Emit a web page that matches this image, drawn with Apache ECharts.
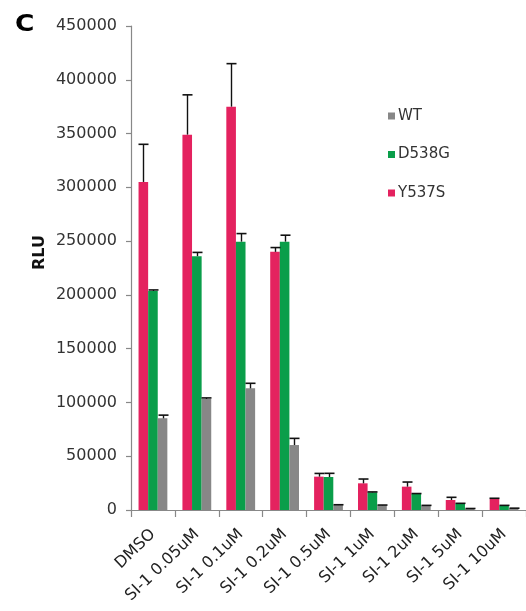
<!DOCTYPE html>
<html>
<head>
<meta charset="utf-8">
<script src="https://cdn.jsdelivr.net/npm/echarts@6/dist/echarts.min.js"></script>
<style>
  html, body { margin: 0; padding: 0; background: #fff; }
  #chart { width: 526px; height: 611px; }
</style>
</head>
<body>
<div id="chart"></div>
<script>
// Luciferase readout per treatment, three receptor variants
const categories = ['DMSO', 'SI-1 0.05uM', 'SI-1 0.1uM', 'SI-1 0.2uM', 'SI-1 0.5uM', 'SI-1 1uM', 'SI-1 2uM', 'SI-1 5uM', 'SI-1 10uM'];
const y537s = [305000, 349000, 375000, 240000, 31000, 24800, 21700, 9300, 10200];
const y537sErr = [35000, 37000, 40000, 4000, 3000, 4000, 4300, 2500, 700];
const d538g = [203600, 236000, 249500, 249500, 30700, 16400, 14900, 5900, 4000];
const d538gErr = [1000, 3500, 7500, 6000, 3400, 400, 400, 300, 300];
const wt = [85200, 103200, 113100, 60400, 4600, 4300, 4000, 1200, 1500];
const wtErr = [3000, 1000, 4700, 6200, 300, 300, 300, 200, 200];
const yTicks = [0, 50000, 100000, 150000, 200000, 250000, 300000, 350000, 400000, 450000];

const FONT = '"DejaVu Sans", "Liberation Sans", Arial, sans-serif';
const BAR_W = 9.6;
const COLORS = { y537s: '#E4225F', d538g: '#0A9E4A', wt: '#878787' };

// Upward-only error whiskers placed over the bar in the given slot
function errorSeries(values, errs, slot) {
  return {
    type: 'custom',
    silent: true,
    z: 5,
    data: values.map((v, i) => [i, v, v + errs[i]]),
    renderItem: function (params, api) {
      const base = api.coord([api.value(0), api.value(1)]);
      const top = api.coord([api.value(0), api.value(2)]);
      const x = Math.round(base[0] + slot * BAR_W) + 0.5;
      const half = 5;
      return {
        type: 'group',
        children: [
          { type: 'line', shape: { x1: x, y1: base[1], x2: x, y2: top[1] }, style: { stroke: '#111', lineWidth: 1.4 } },
          { type: 'line', shape: { x1: x - half, y1: top[1], x2: x + half, y2: top[1] }, style: { stroke: '#111', lineWidth: 1.6 } }
        ]
      };
    }
  };
}

function barSeries(name, values, color) {
  return {
    name: name,
    type: 'bar',
    data: values,
    barWidth: BAR_W,
    barGap: '0%',
    itemStyle: { color: color },
    emphasis: { disabled: true }
  };
}

const chart = echarts.init(document.getElementById('chart'), null, { renderer: 'canvas' });
chart.setOption({
  animation: false,
  backgroundColor: '#fff',
  textStyle: { fontFamily: FONT },
  graphic: [
    {
      // panel letter
      type: 'text',
      left: 15,
      top: 14,
      scaleX: 1.15,
      style: { text: 'C', font: 'bold 23px "DejaVu Sans", sans-serif', fill: '#000' }
    },
    {
      // value-axis title
      type: 'text',
      x: 39.5,
      y: 252.5,
      rotation: Math.PI / 2,
      style: {
        text: 'RLU', font: 'bold 16px "DejaVu Sans", sans-serif', fill: '#111',
        align: 'center', verticalAlign: 'middle'
      }
    }
  ],
  legend: {
    orient: 'vertical',
    left: 383,
    top: 102,
    itemWidth: 7,
    itemHeight: 7,
    itemGap: 20.5,
    icon: 'rect',
    data: ['WT', 'D538G', 'Y537S'],
    textStyle: { fontFamily: FONT, fontSize: 15, color: '#333', padding: [0, 0, 0, -2], lineHeight: 18 }
  },
  grid: { left: 131, right: -3, top: 26, bottom: 101, containLabel: false },
  xAxis: {
    type: 'category',
    data: categories,
    axisLine: { lineStyle: { color: '#888', width: 1.2 } },
    axisTick: { show: true, length: 7, lineStyle: { color: '#888', width: 1.2 } },
    axisLabel: { rotate: 44, fontFamily: FONT, fontSize: 16, color: '#222', margin: 22, interval: 0 }
  },
  yAxis: {
    type: 'value',
    min: 0,
    max: 450000,
    interval: 50000,
    axisLine: { show: true, lineStyle: { color: '#888', width: 1.2 } },
    axisTick: { show: true, length: 5, lineStyle: { color: '#888', width: 1.2 } },
    splitLine: { show: false },
    axisLabel: {
      fontFamily: FONT, fontSize: 16, color: '#333', margin: 14,
      formatter: function (v) { return yTicks.indexOf(v) >= 0 ? String(v) : ''; }
    }
  },
  series: [
    barSeries('Y537S', y537s, COLORS.y537s),
    barSeries('D538G', d538g, COLORS.d538g),
    barSeries('WT', wt, COLORS.wt),
    errorSeries(y537s, y537sErr, -1),
    errorSeries(d538g, d538gErr, 0),
    errorSeries(wt, wtErr, 1)
  ]
});
</script>
</body>
</html>
